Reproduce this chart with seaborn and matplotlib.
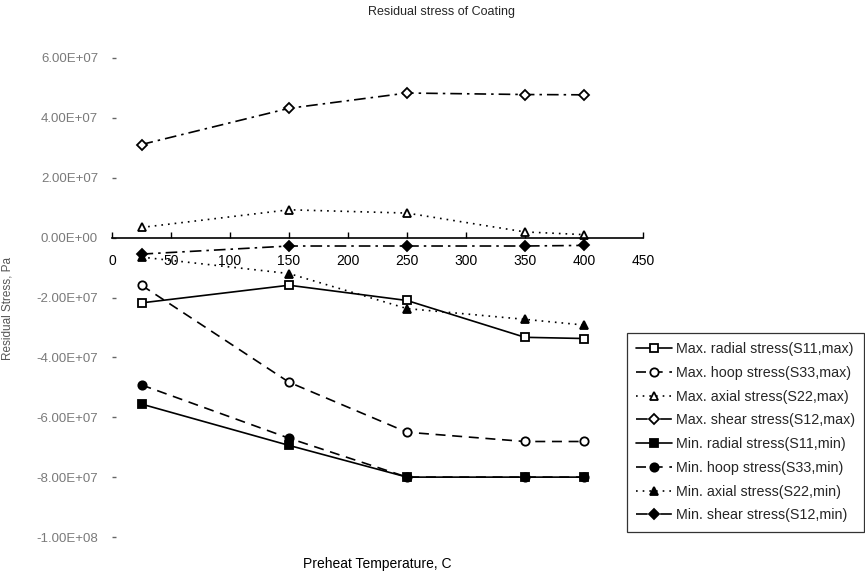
import matplotlib
matplotlib.use("Agg")
import matplotlib.pyplot as plt
import matplotlib.ticker as mticker
import seaborn as sns
import pandas as pd

# Preheat temperatures (C)
temperatures = [25, 150, 250, 350, 400]

# Residual stress in the coating (Pa)
max_radial = [-2.18e7, -1.59e7, -2.10e7, -3.33e7, -3.37e7]
max_hoop = [-1.59e7, -4.83e7, -6.50e7, -6.81e7, -6.81e7]
max_axial = [3.4e6, 9.3e6, 8.2e6, 1.9e6, 1.0e6]
max_shear = [3.11e7, 4.32e7, 4.83e7, 4.78e7, 4.77e7]
min_radial = [-5.56e7, -6.94e7, -8.0e7, -8.0e7, -8.0e7]
min_hoop = [-4.92e7, -6.70e7, -8.0e7, -8.0e7, -8.0e7]
min_axial = [-6.5e6, -1.2e7, -2.37e7, -2.73e7, -2.92e7]
min_shear = [-5.5e6, -2.8e6, -2.8e6, -2.8e6, -2.6e6]

series_labels = [
    "Max. radial stress(S11,max)",
    "Max. hoop stress(S33,max)",
    "Max. axial stress(S22,max)",
    "Max. shear stress(S12,max)",
    "Min. radial stress(S11,min)",
    "Min. hoop stress(S33,min)",
    "Min. axial stress(S22,min)",
    "Min. shear stress(S12,min)",
]
series_values = [max_radial, max_hoop, max_axial, max_shear,
                 min_radial, min_hoop, min_axial, min_shear]

x_ticks = [0, 50, 100, 150, 200, 250, 300, 350, 400, 450]
y_ticks = [6e7, 4e7, 2e7, 0, -2e7, -4e7, -6e7, -8e7, -1e8]

sns.set_theme(style="white")
plt.rcParams["font.family"] = ["Liberation Sans", "DejaVu Sans"]

fig = plt.figure(figsize=(8.65, 5.76), dpi=100)
ax = fig.add_axes([112 / 865, 1 - 537 / 576, (643 - 112) / 865, (537 - 58) / 576])

dash_line = (0, (6, 4))
dot_line = (0, (1, 3))
dashdot_line = (0, (7, 3, 1.5, 3))
styles = [
    dict(marker="s", linestyle="-", markerfacecolor="white"),
    dict(marker="o", linestyle=dash_line, markerfacecolor="white"),
    dict(marker="^", linestyle=dot_line, markerfacecolor="white"),
    dict(marker="D", linestyle=dashdot_line, markerfacecolor="white"),
    dict(marker="s", linestyle="-", markerfacecolor="black"),
    dict(marker="o", linestyle=dash_line, markerfacecolor="black"),
    dict(marker="^", linestyle=dot_line, markerfacecolor="black"),
    dict(marker="D", linestyle=dashdot_line, markerfacecolor="black"),
]

for label, values, st in zip(series_labels, series_values, styles):
    df = pd.DataFrame({"temp": temperatures, "stress": values})
    ms = 5 if st["marker"] == "D" else 6
    sns.lineplot(data=df, x="temp", y="stress", ax=ax, color="black",
                 linewidth=1.2, markersize=ms, markeredgewidth=1.3,
                 markeredgecolor="black", label=label, **st)

ax.set_xlim(0, 450)
ax.set_ylim(-1e8, 6e7)
ax.set_xticks(x_ticks)
ax.set_yticks(y_ticks)
ax.yaxis.set_major_formatter(mticker.FormatStrFormatter("%.2E"))

for side in ("top", "right", "left"):
    ax.spines[side].set_visible(False)
ax.spines["bottom"].set_position(("data", 0))
ax.spines["bottom"].set_color("black")
ax.spines["bottom"].set_linewidth(1.2)

ax.tick_params(axis="x", direction="in", length=4, width=1, colors="black",
               labelsize=10, pad=12, bottom=True)
ax.tick_params(axis="y", direction="in", length=3, width=1, colors="#666666",
               labelsize=9.5, pad=10, left=True)
for t in ax.get_yticklabels():
    t.set_color("#7a7a7a")

ax.set_xlabel("Preheat Temperature, C", fontsize=10, color="black")
ax.xaxis.set_label_coords(0.5, -0.042)
ax.set_ylabel("Residual Stress, Pa", fontsize=8.5, color="#555555")
ax.yaxis.set_label_coords(-0.185, 0.476)

fig.text(442 / 865, 1 - 12 / 576, "Residual stress of Coating",
         ha="center", va="center", fontsize=9)

leg = ax.legend(loc="upper left", bbox_to_anchor=(627 / 865, 1 - 333 / 576),
                bbox_transform=fig.transFigure, frameon=True, fancybox=False,
                edgecolor="black", fontsize=10.3, handlelength=2.5,
                handletextpad=0.25, labelspacing=0.68, borderpad=0.65,
                borderaxespad=0)
leg.get_frame().set_linewidth(0.9)

fig.savefig("out.png", dpi=100)
